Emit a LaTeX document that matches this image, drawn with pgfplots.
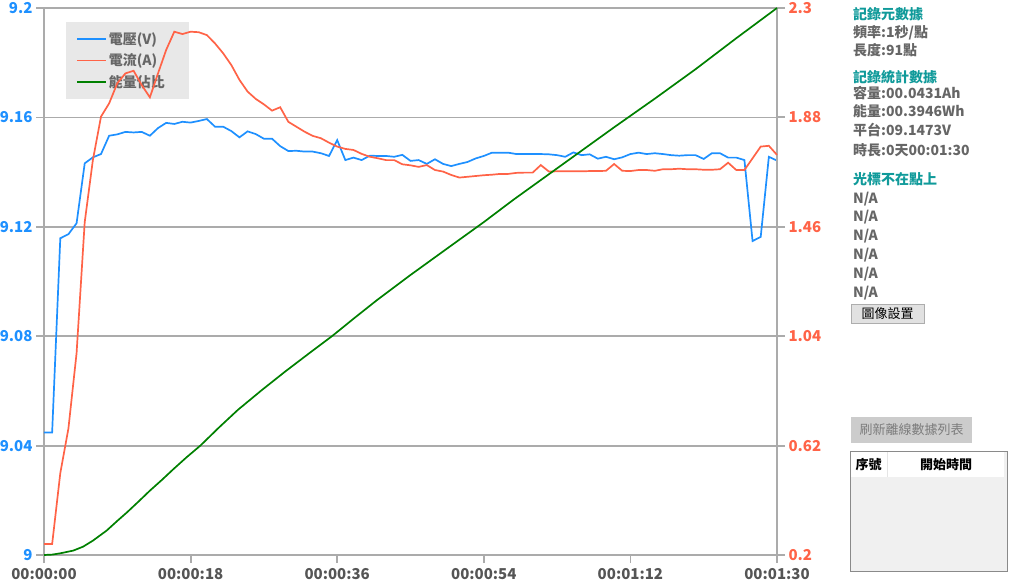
\documentclass[border=0pt]{standalone}
\usepackage{fontspec}
\setmainfont{Noto Sans CJK TC}
\usepackage{pgfplots}
\pgfplotsset{compat=1.18}
\definecolor{vblue}{HTML}{1E90FF}
\definecolor{ired}{HTML}{FF6347}
\definecolor{egreen}{HTML}{008000}
\definecolor{gridgray}{HTML}{ABABAB}
\definecolor{lgray}{HTML}{E8E8E8}
\definecolor{txtgray}{HTML}{666666}
\definecolor{xgray}{HTML}{555555}
\definecolor{teal2}{HTML}{109A9A}
\definecolor{btngray}{HTML}{E1E1E1}
\definecolor{btnborder}{HTML}{ADADAD}
\definecolor{refbtn}{HTML}{CCCCCC}
\definecolor{tblbody}{HTML}{F0F0F0}
\definecolor{tblborder}{HTML}{8A8A8A}

\pgfplotstableread{
t V
0 9.0448
1 9.0448
2 9.1158
3 9.1173
4 9.1213
5 9.1432
6 9.1454
7 9.1466
8 9.1533
9 9.1538
10 9.1547
11 9.1545
12 9.1547
13 9.1533
14 9.1561
15 9.1580
16 9.1576
17 9.1584
18 9.1581
19 9.1587
20 9.1594
21 9.1566
22 9.1566
23 9.1550
24 9.1527
25 9.1549
26 9.1539
27 9.1522
28 9.1522
29 9.1495
30 9.1477
31 9.1478
32 9.1475
33 9.1475
34 9.1469
35 9.1459
36 9.1517
37 9.1444
38 9.1453
39 9.1444
40 9.1460
41 9.1459
42 9.1459
43 9.1456
44 9.1463
45 9.1441
46 9.1444
47 9.1430
48 9.1447
49 9.1430
50 9.1422
51 9.1430
52 9.1437
53 9.1450
54 9.1459
55 9.1471
56 9.1471
57 9.1471
58 9.1466
59 9.1466
60 9.1466
61 9.1466
62 9.1465
63 9.1462
64 9.1456
65 9.1472
66 9.1462
67 9.1465
68 9.1449
69 9.1456
70 9.1447
71 9.1454
72 9.1466
73 9.1471
74 9.1466
75 9.1469
76 9.1466
77 9.1462
78 9.1460
79 9.1462
80 9.1462
81 9.1448
82 9.1469
83 9.1469
84 9.1453
85 9.1453
86 9.1444
87 9.1148
88 9.1163
89 9.1456
90 9.1442
}\voltdata

\pgfplotstableread{
t I
0 0.242
1 0.242
2 0.514
3 0.686
4 0.975
5 1.478
6 1.716
7 1.883
8 1.934
9 2.011
10 2.049
11 2.059
12 2.004
13 1.957
14 2.049
15 2.139
16 2.209
17 2.200
18 2.209
19 2.207
20 2.196
21 2.164
22 2.126
23 2.081
24 2.024
25 1.979
26 1.951
27 1.930
28 1.906
29 1.919
30 1.863
31 1.844
32 1.825
33 1.809
34 1.800
35 1.783
36 1.768
37 1.759
38 1.755
39 1.740
40 1.729
41 1.723
42 1.716
43 1.716
44 1.700
45 1.696
46 1.690
47 1.697
48 1.678
49 1.672
50 1.659
51 1.649
52 1.652
53 1.655
54 1.658
55 1.660
56 1.663
57 1.663
58 1.667
59 1.668
60 1.668
61 1.697
62 1.672
63 1.673
64 1.673
65 1.673
66 1.673
67 1.674
68 1.674
69 1.675
70 1.701
71 1.675
72 1.674
73 1.678
74 1.678
75 1.675
76 1.681
77 1.681
78 1.683
79 1.681
80 1.681
81 1.679
82 1.679
83 1.681
84 1.706
85 1.678
86 1.678
87 1.723
88 1.768
89 1.771
90 1.736
}\currdata

\pgfplotstableread{
t E
0 0.200
1 0.2015
2 0.2065
3.6 0.217
4.8 0.232
6 0.255
7.7 0.294
9 0.331
10.2 0.364
11.6 0.405
13 0.447
14.5 0.489
15.9 0.530
17.5 0.575
19.2 0.620
21.5 0.690
23.8 0.757
26.7 0.832
29.6 0.904
32.5 0.973
35.4 1.041
38 1.107
40.9 1.179
45 1.275
50 1.388
54 1.478
57.6 1.563
62 1.662
66 1.752
70 1.842
75 1.952
80 2.065
85 2.184
90 2.300
}\energydata

\newcommand{\tickfont}{\fontsize{15}{15}\selectfont\bfseries}
\newcommand{\pfont}{\fontsize{14}{16}\selectfont\bfseries}

\begin{document}
\begin{tikzpicture}[x=1pt,y=1pt]
\path[use as bounding box] (0,0) rectangle (1009,582);

\begin{axis}[
  at={(44pt,27pt)}, anchor=south west,
  scale only axis, width=733pt, height=547pt,
  xmin=0, xmax=90, ymin=9, ymax=9.2,
  axis x line*=bottom, axis y line*=left,
  axis line style={gridgray, line width=1.8pt},
  tick align=outside, major tick length=8pt,
  major tick style={gridgray, line width=1.8pt},
  ymajorgrids, major grid style={gridgray, line width=1.8pt},
  xtick={0,18,36,54,72,90},
  xticklabels={00:00:00,00:00:18,00:00:36,00:00:54,00:01:12,00:01:30},
  ytick={9,9.04,9.08,9.12,9.16,9.2},
  yticklabels={9,9.04,9.08,9.12,9.16,9.2},
  /pgf/number format/assume math mode=true,
  xticklabel style={xgray, font=\tickfont, yshift=-2pt},
  yticklabel style={vblue, font=\tickfont},
  clip=false,
  legend style={at={(0.030,0.974)}, anchor=north west, fill=lgray, draw=none,
    font=\pfont, text=txtgray, inner xsep=10pt, inner ysep=8pt, row sep=4pt,
    /tikz/every even column/.append style={column sep=7pt}},
  legend image code/.code={\draw[#1] (0pt,0pt) -- (29pt,0pt);},
  legend cell align=left,
]
\addplot[vblue, line width=1.7pt, forget plot] table[x=t, y=V] {\voltdata};
\addlegendimage{vblue, line width=1.7pt}
\addlegendentry{\makebox[68pt][l]{電壓(V)}}
\addlegendimage{ired, line width=1.7pt}
\addlegendentry{\makebox[68pt][l]{電流(A)}}
\addlegendimage{egreen, line width=1.7pt}
\addlegendentry{\makebox[68pt][l]{能量佔比}}
\end{axis}

\begin{axis}[
  at={(44pt,27pt)}, anchor=south west,
  scale only axis, width=733pt, height=547pt,
  xmin=0, xmax=90, ymin=0.2, ymax=2.3,
  axis x line=none, axis y line*=right,
  axis line style={gridgray, line width=1.8pt},
  tick align=outside, major tick length=8pt,
  major tick style={gridgray, line width=1.8pt},
  ytick={0.2,0.62,1.04,1.46,1.88,2.3},
  yticklabels={0.2,0.62,1.04,1.46,1.88,2.3},
  /pgf/number format/assume math mode=true,
  yticklabel style={ired, font=\tickfont},
  clip=false,
]
\addplot[ired, line width=1.7pt] table[x=t, y=I] {\currdata};
\addplot[egreen, line width=1.7pt] table[x=t, y=E] {\energydata};
\end{axis}

% right panel
\begin{scope}[every node/.style={anchor=west, inner sep=0pt, font=\pfont}]
\node[teal2] at (853,582-14) {記錄元數據};
\node[txtgray] at (853,582-32.5) {頻率:1秒/點};
\node[txtgray] at (853,582-50) {長度:91點};
\node[teal2] at (853,582-77) {記錄統計數據};
\node[txtgray] at (853,582-93) {容量:00.0431Ah};
\node[txtgray] at (853,582-111) {能量:00.3946Wh};
\node[txtgray] at (853,582-130.5) {平台:09.1473V};
\node[txtgray] at (853,582-150) {時長:0天00:01:30};
\node[teal2] at (853,582-179) {光標不在點上};
\node[txtgray] at (853,582-199) {N/A};
\node[txtgray] at (853,582-217.5) {N/A};
\node[txtgray] at (853,582-236) {N/A};
\node[txtgray] at (853,582-255) {N/A};
\node[txtgray] at (853,582-274) {N/A};
\node[txtgray] at (853,582-293) {N/A};
\end{scope}

\draw[fill=btngray, draw=btnborder, line width=0.8pt] (851,582-304) rectangle (924,582-323);
\node[font=\fontsize{13}{15}\selectfont, text=black, inner sep=0pt] at (887.5,582-314) {圖像設置};

\fill[refbtn] (851,582-417) rectangle (972,582-443);
\node[font=\fontsize{13}{15}\selectfont, text=txtgray!85!white, inner sep=0pt] at (911.5,582-430) {刷新離線數據列表};

\fill[tblbody] (850,582-451) rectangle (1007,582-571);
\fill[white] (851,582-452) rectangle (1004,582-477);
\draw[white!90!black, line width=0.6pt] (887.5,582-452) -- (887.5,582-477);
\draw[tblborder, line width=0.9pt] (850,582-451) rectangle (1007,582-571);
\node[font=\fontsize{13}{15}\selectfont\bfseries, text=black, inner sep=0pt] at (868.5,582-464.5) {序號};
\node[font=\fontsize{13}{15}\selectfont\bfseries, text=black, inner sep=0pt] at (946,582-464.5) {開始時間};

\end{tikzpicture}
\end{document}
